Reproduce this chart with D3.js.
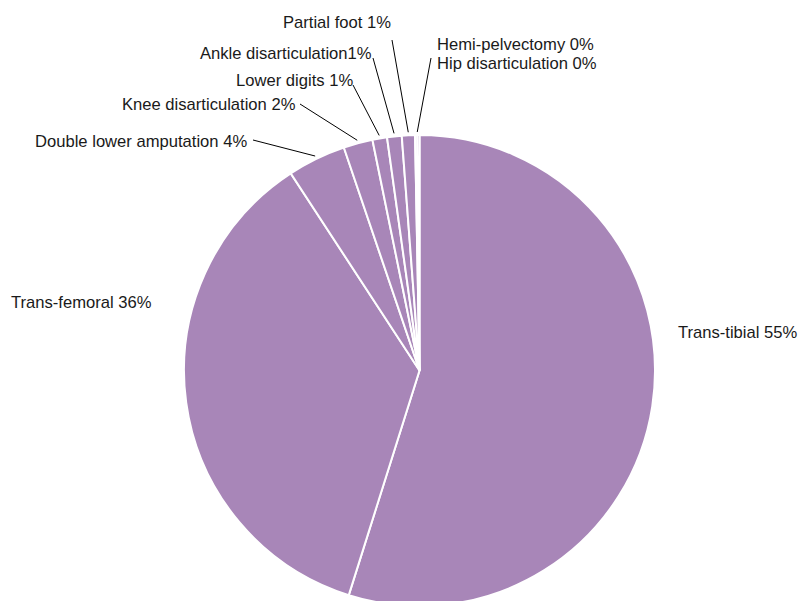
<!DOCTYPE html>
<html><head><meta charset="utf-8">
<script src="https://cdn.jsdelivr.net/npm/d3@7"></script>
<style>body{margin:0;background:#fff}svg{display:block}text{font-family:"Liberation Sans",Arial,sans-serif;font-size:16.6px;fill:#1a1a1a}</style>
</head><body>
<script>
const categories = ["Trans-tibial","Trans-femoral","Double lower amputation","Knee disarticulation","Lower digits","Ankle disarticulation","Partial foot","Hemi-pelvectomy","Hip disarticulation"];
const values = [54.8, 35.9, 4.0, 2.0, 1.0, 1.0, 0.9, 0.15, 0.15];
const labels = ["Trans-tibial 55%","Trans-femoral 36%","Double lower amputation 4%","Knee disarticulation 2%","Lower digits 1%","Ankle disarticulation1%","Partial foot 1%","Hemi-pelvectomy 0%","Hip disarticulation 0%"];

// layout (not data): label anchor and leader-line outer end
const labelLayout = [
  {x:678, y:338, lx:null, ly:null},
  {x:11,  y:308, lx:null, ly:null},
  {x:35,  y:147, lx:253, ly:140},
  {x:122, y:110, lx:300, ly:104},
  {x:236, y:86,  lx:353, ly:85},
  {x:200, y:59,  lx:373, ly:58},
  {x:283, y:28,  lx:392, ly:40},
  {x:437, y:50,  lx:431, ly:58},
  {x:437, y:69,  lx:null, ly:null}
];

const W = 798, H = 601, cx = 419.5, cy = 370.5, R = 235.5;
const svg = d3.select("body").append("svg").attr("width", W).attr("height", H);
const g = svg.append("g").attr("transform", `translate(${cx},${cy})`);
const pie = d3.pie().sort(null).value(d => d)(values);
const arc = d3.arc().innerRadius(0).outerRadius(R);
g.selectAll("path").data(pie).join("path")
  .attr("d", arc).attr("fill", "#a886b8").attr("stroke", "#fff").attr("stroke-width", 2);

// leader lines
const hemiMid = (pie[7].startAngle + pie[8].endAngle) / 2;
pie.forEach((p, i) => {
  const L = labelLayout[i];
  if (L.lx == null) return;
  const a = i === 7 ? hemiMid : (p.startAngle + p.endAngle) / 2;
  const ix = cx + (R + 3) * Math.sin(a), iy = cy - (R + 3) * Math.cos(a);
  svg.append("line").attr("x1", L.lx).attr("y1", L.ly).attr("x2", ix).attr("y2", iy)
    .attr("stroke", "#000").attr("stroke-width", 1);
});

svg.selectAll("text.lbl").data(labels).join("text").attr("class", "lbl")
  .attr("x", (d, i) => labelLayout[i].x).attr("y", (d, i) => labelLayout[i].y)
  .text(d => d);
</script>
</body></html>
